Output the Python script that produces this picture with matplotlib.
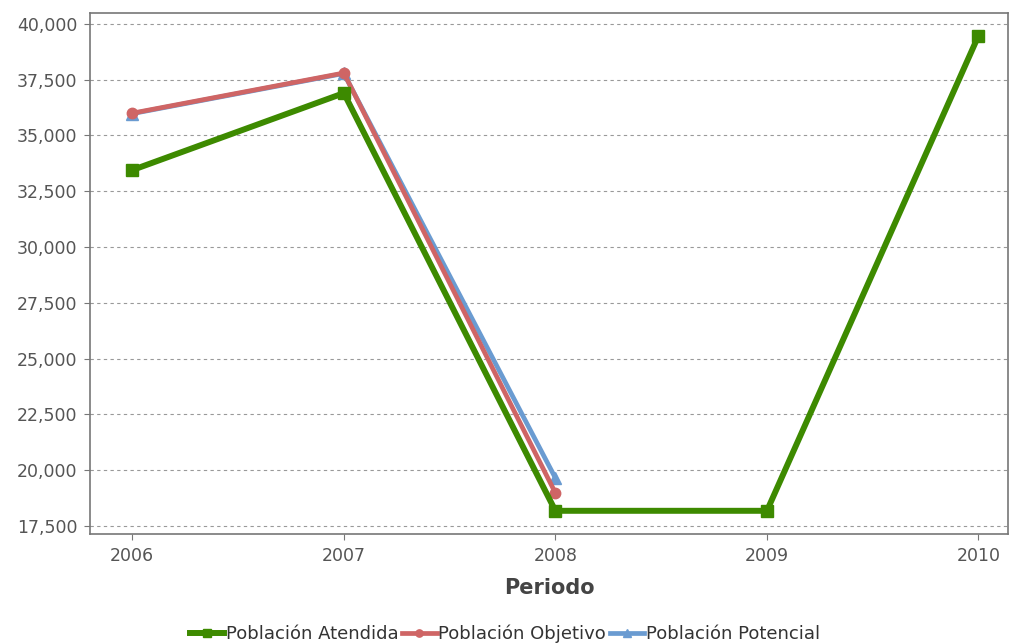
import matplotlib.pyplot as plt
from matplotlib.ticker import FuncFormatter

years = [2006, 2007, 2008, 2009, 2010]
atendida = [33450, 36900, 18180, 18180, 39470]
objetivo_years = [2006, 2007, 2008]
objetivo = [36000, 37800, 18980]
potencial_years = [2006, 2007, 2008]
potencial = [35980, 37780, 19650]
yticks = [17500, 20000, 22500, 25000, 27500, 30000, 32500, 35000, 37500, 40000]

green = '#3d8a00'
red = '#cf6565'
blue = '#6a9bd1'
grey = '#555555'

fig = plt.figure(figsize=(10.1, 6.43), dpi=100)
ax = fig.add_axes([0.0891, 0.1695, 0.909, 0.8103])

ax.plot(potencial_years, potencial, color=blue, lw=3.4, marker='^', ms=8,
        label='Población Potencial', zorder=3)
ax.plot(objetivo_years, objetivo, color=red, lw=3.4, marker='o', ms=7.5,
        label='Población Objetivo', zorder=4)
ax.plot(years, atendida, color=green, lw=4.3, marker='s', ms=9,
        label='Población Atendida', zorder=5)

ax.set_xlim(2005.80, 2010.14)
ax.set_ylim(17140, 40490)
ax.set_xticks(years)
ax.set_yticks(yticks)
ax.yaxis.set_major_formatter(FuncFormatter(lambda v, p: f'{int(v):,}'))

ax.grid(axis='y', linestyle=(0, (3, 3)), color='#999999', lw=0.8)
ax.set_axisbelow(True)
for s in ax.spines.values():
    s.set_color('#777777')
    s.set_linewidth(1.2)

ax.tick_params(axis='both', labelsize=12.5, colors='#777777', labelcolor=grey, length=4, pad=5)
ax.set_xlabel('Periodo', fontsize=15, fontweight='bold', color='#444444', labelpad=10)

handles, labels = ax.get_legend_handles_labels()
order = [2, 1, 0]
fig.legend([handles[i] for i in order], [labels[i] for i in order],
           loc='lower center', bbox_to_anchor=(0.5, -0.025), ncol=3, frameon=False,
           fontsize=13, handlelength=1.9, handletextpad=0.1, columnspacing=0.2,
           markerscale=0.7, labelcolor='#333333')

plt.savefig('out.png')
